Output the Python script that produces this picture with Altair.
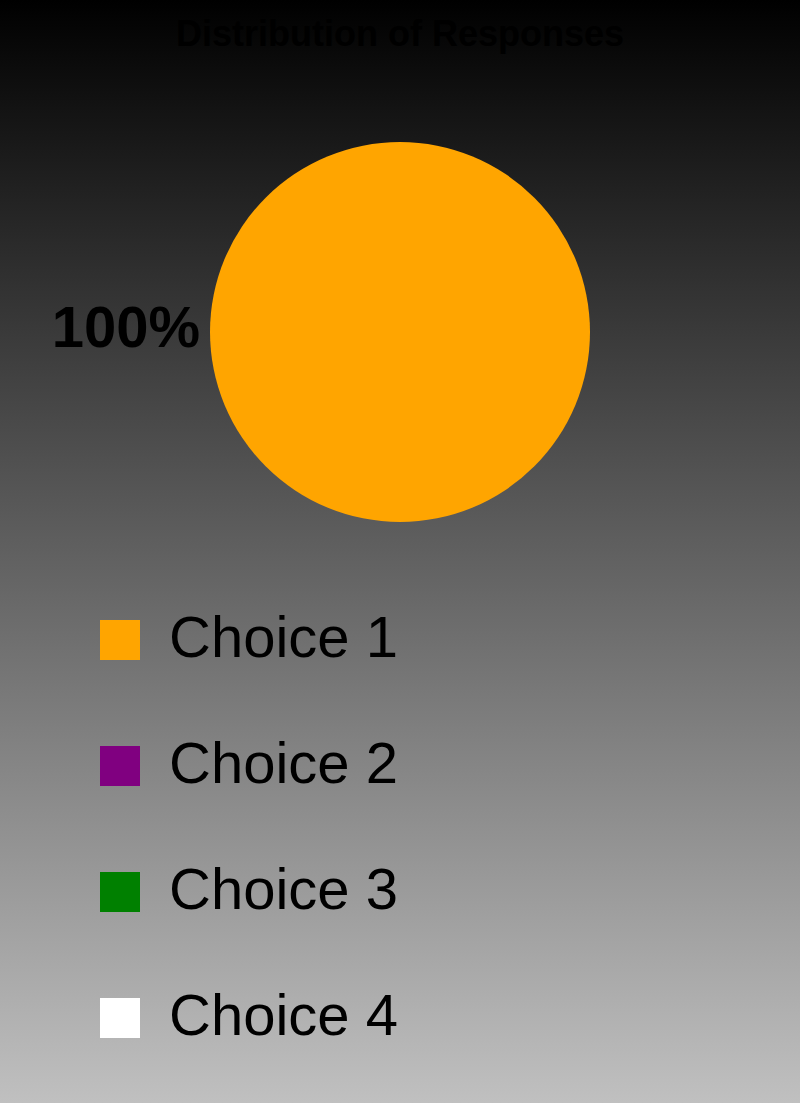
import math
import altair as alt
import pandas as pd

# ---- data ----
choices = ["Choice 1", "Choice 2", "Choice 3", "Choice 4"]
shares = [100, 0, 0, 0]
colors = ["#FFA500", "#800080", "#008000", "#FFFFFF"]
labels = [f"{v}%" for v in shares]
title_text = "Distribution of Responses"

W, H = 800, 1103
CX, CY = 400, 332
FONT = "Liberation Sans"

df = pd.DataFrame({"choice": choices, "share": shares, "label": labels})

bg = alt.Chart(pd.DataFrame({"a": [0]})).mark_rect(
    fill=alt.Gradient(
        gradient="linear",
        stops=[alt.GradientStop(color="#000000", offset=0),
               alt.GradientStop(color="#c0c0c0", offset=1)],
        x1=0, x2=0, y1=0, y2=1,
    )
).encode(x=alt.value(0), x2=alt.value(W), y=alt.value(0), y2=alt.value(H))

title = alt.Chart(pd.DataFrame({"t": [title_text]})).mark_text(
    fontSize=36, fontWeight="bold", color="black", font=FONT,
    baseline="alphabetic", align="center",
).encode(text="t:N", x=alt.value(W / 2), y=alt.value(46))

color_enc = alt.Color(
    "choice:N",
    scale=alt.Scale(domain=choices, range=colors),
    legend=alt.Legend(
        orient="none", legendX=91, legendY=611, title=None,
        symbolType="square", symbolSize=1600, symbolStrokeWidth=0,
        symbolOpacity=1,
        labelFontSize=58, labelFont=FONT, labelColor="black",
        labelOffset=20, rowPadding=68, padding=0, labelLimit=0,
    ),
)

pie = alt.Chart(df).mark_arc(outerRadius=190).encode(
    theta=alt.Theta("share:Q", stack=True),
    color=color_enc,
    order=alt.Order("choice:N"),
    x=alt.value(CX),
    y=alt.value(CY),
)

text = alt.Chart(df).transform_filter("datum.share > 0").mark_text(
    radius=274, thetaOffset=math.pi / 2, fontSize=58, fontWeight="bold",
    color="black", font=FONT, baseline="alphabetic", dy=15, align="center",
).encode(
    theta=alt.Theta("share:Q", stack=True),
    text="label:N",
    x=alt.value(CX),
    y=alt.value(CY),
)

chart = alt.layer(bg, title, pie, text).properties(
    width=W, height=H,
    padding=0,
    autosize=alt.AutoSizeParams(type="none"),
).configure_view(stroke=None).configure(background="#000000")

chart.save("out.html", embed_options={"renderer": "svg", "actions": False})
